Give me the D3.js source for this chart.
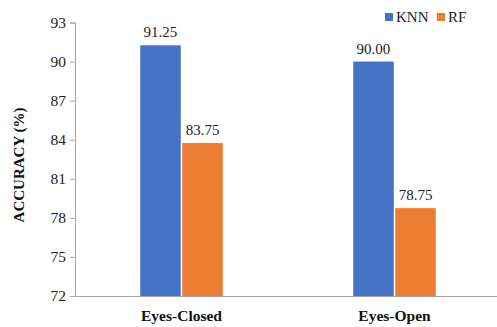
<!DOCTYPE html>
<html><head><meta charset="utf-8">
<script src="https://cdn.jsdelivr.net/npm/d3@7"></script>
<style>
body{margin:0;background:#fff}svg{display:block}
svg text{font-family:"Liberation Serif","Times New Roman",Tinos,Times,"DejaVu Serif",serif;}
</style>
</head><body>
<svg id="c" width="497" height="327"></svg>
<script>
const categories = ["Eyes-Closed", "Eyes-Open"];
const series = ["KNN", "RF"];
const knnValues = [91.25, 90.00];
const rfValues = [83.75, 78.75];
const yTicks = [72, 75, 78, 81, 84, 87, 90, 93];
const colors = {KNN: "#4472C4", RF: "#ED7D31"};

const svg = d3.select("#c");
const x0 = d3.scaleBand().domain(categories).range([75, 501]).padding(0);
const x1 = d3.scaleBand().domain(series).range([0, x0.bandwidth()]).paddingInner(0.0357).paddingOuter(1.553);
const y = d3.scaleLinear().domain([72, 93]).range([296, 22.5]);

const data = categories.map((c, i) => ({cat: c, vals: [{s: "KNN", v: knnValues[i]}, {s: "RF", v: rfValues[i]}]}));

// y axis
const yAxis = svg.append("g").attr("transform", "translate(75,0)")
  .call(d3.axisLeft(y).tickValues(yTicks).tickSize(5).tickPadding(4).tickFormat(d3.format("d")));
yAxis.attr("font-family", null);
yAxis.selectAll("path,line").attr("stroke", "#a6a6a6");
yAxis.selectAll("text").style("font-size", "15.5px").attr("fill", "#222");

// bars
const g = svg.append("g").selectAll("g").data(data).join("g")
  .attr("transform", d => `translate(${x0(d.cat)},0)`);
g.selectAll("rect").data(d => d.vals).join("rect")
  .attr("x", d => x1(d.s)).attr("width", x1.bandwidth())
  .attr("y", d => y(d.v)).attr("height", d => y(72) - y(d.v))
  .attr("fill", d => colors[d.s]);
g.selectAll("text").data(d => d.vals).join("text")
  .attr("x", d => x1(d.s) + x1.bandwidth() / 2).attr("y", d => y(d.v) - 8)
  .attr("text-anchor", "middle").style("font-size", "15px").attr("fill", "#222")
  .text(d => d.v.toFixed(2));

// x axis
const xAxis = svg.append("g").attr("transform", "translate(0,296)")
  .call(d3.axisBottom(x0).tickSize(0).tickPadding(14));
xAxis.attr("font-family", null);
xAxis.select("path").attr("stroke", "#a6a6a6");
xAxis.selectAll("text").style("font-size", "15.5px").style("font-weight", "bold").attr("fill", "#111");

// y title
svg.append("text").attr("transform", "translate(24,165) rotate(-90)")
  .attr("text-anchor", "middle").style("font-size", "15px").style("font-weight", "bold").attr("fill", "#111")
  .text("ACCURACY (%)");

// legend
const legendX = {KNN: 385, RF: 437};
series.forEach(s => {
  svg.append("rect").attr("x", legendX[s]).attr("y", 13).attr("width", 8).attr("height", 8).attr("fill", colors[s]);
  svg.append("text").attr("x", legendX[s] + 11).attr("y", 21.5)
    .style("font-size", "15px").attr("fill", "#222").text(s);
});
</script>
</body></html>
